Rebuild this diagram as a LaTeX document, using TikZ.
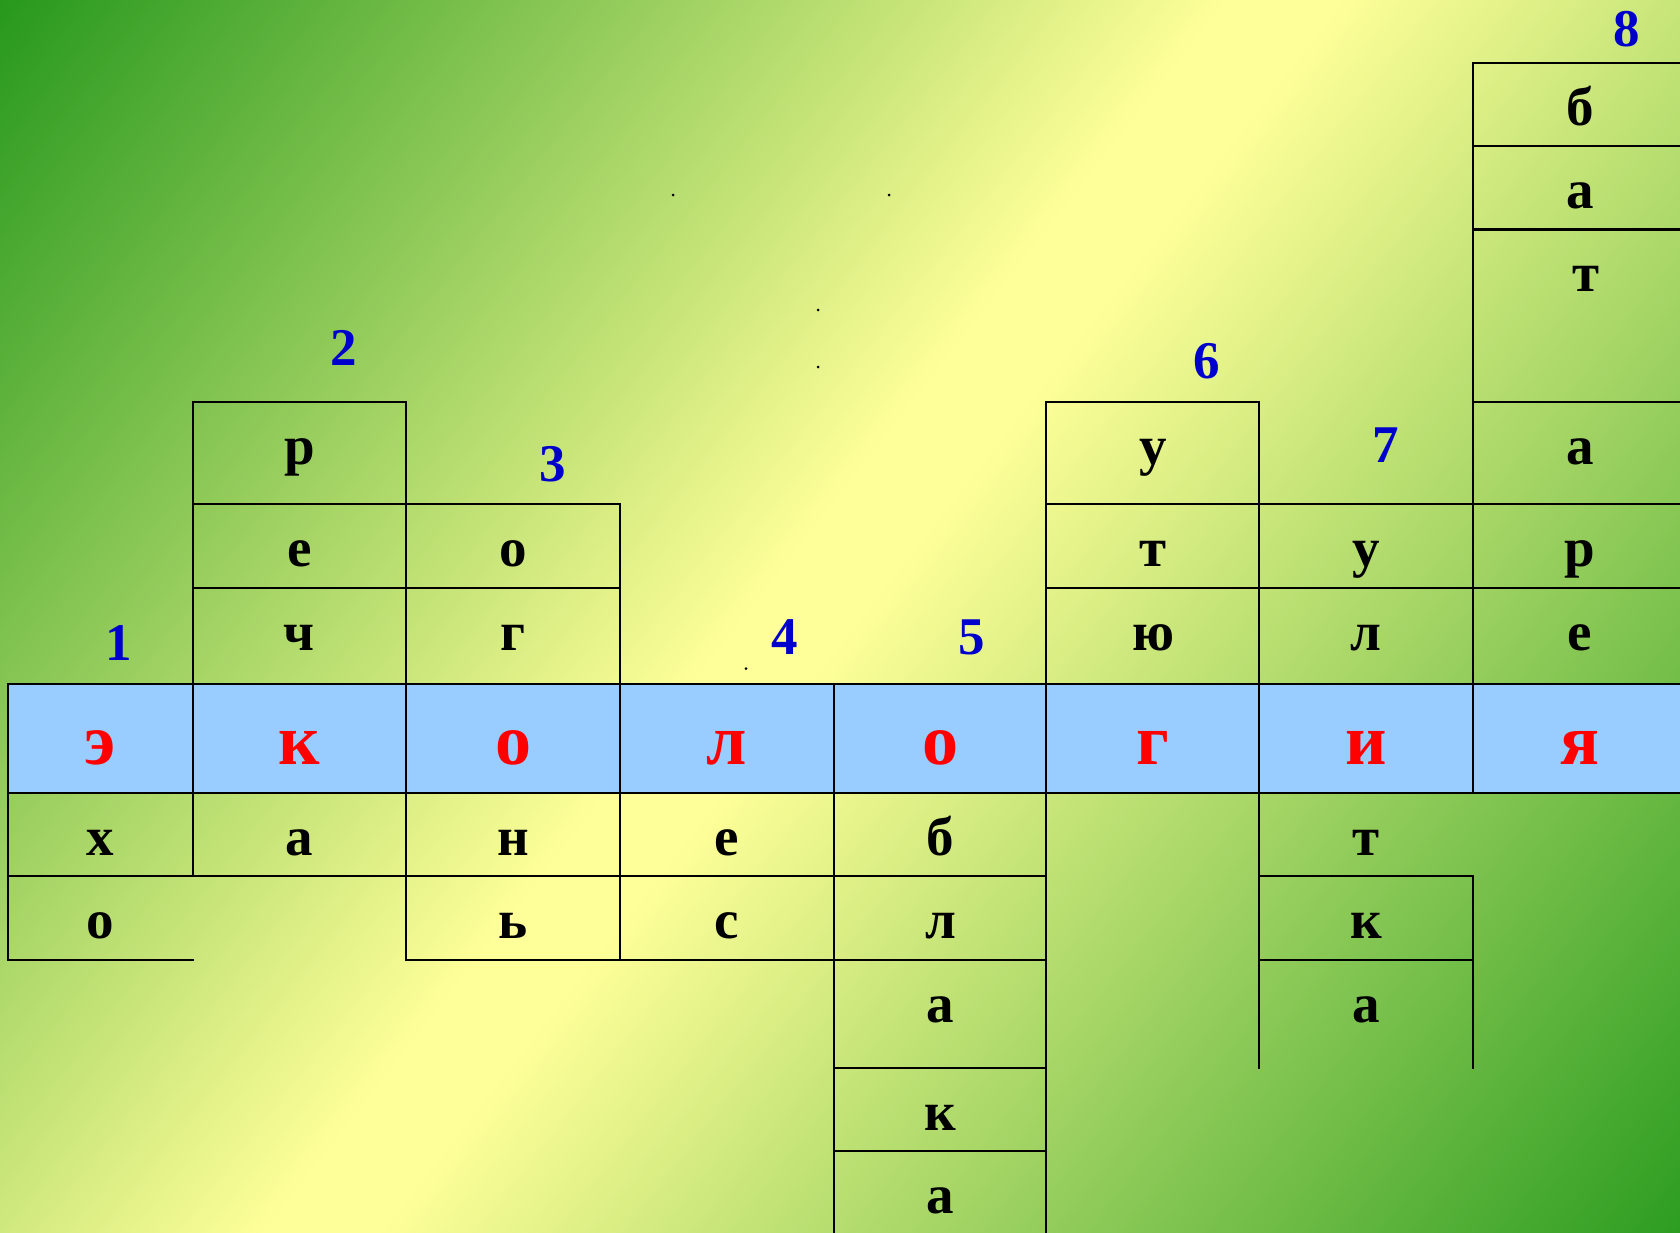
\documentclass[tikz,border=0pt]{standalone}
\usepackage{fontspec}
\setmainfont{Liberation Serif}
\definecolor{bgG}{RGB}{34,150,26}
\definecolor{bgY}{RGB}{255,255,153}
\definecolor{bgGb}{RGB}{40,155,30}
\definecolor{rowblue}{RGB}{153,204,255}
\definecolor{numblue}{RGB}{0,0,204}
\definecolor{wordred}{RGB}{255,0,0}
\pgfdeclarehorizontalshading{bgshade}{100bp}{color(0bp)=(bgG); color(25bp)=(bgG); color(48.3bp)=(bgY); color(50.3bp)=(bgY); color(75bp)=(bgGb); color(100bp)=(bgGb)}
\begin{document}
\begin{tikzpicture}[x=1pt,y=-1pt,
  grid/.style={line width=2.8pt, draw=black, line cap=rect},
  ltr/.style={font=\bfseries\fontsize{55}{55}\selectfont, anchor=mid, inner sep=0pt, text=black, yshift=-13pt},
  key/.style={font=\bfseries\fontsize{72}{72}\selectfont, anchor=mid, inner sep=0pt, text=wordred, yshift=-15pt},
  num/.style={font=\bfseries\fontsize{53}{53}\selectfont, anchor=base, inner sep=0pt, text=numblue},
  speck/.style={fill=black, draw=none}]
\useasboundingbox (0,0) rectangle (1680,1232);
% background gradient
\begin{scope}
  \clip (0,0) rectangle (1680,1232);
  \begin{scope}[transform canvas={rotate=-38}]
    \shade[shading=bgshade] (-20,-1150) rectangle (2103,1100);
  \end{scope}
\end{scope}
% key row fill
\fill[rowblue] (8,684) rectangle (1690,793);
% tiny specks
\fill[speck] (673,195) circle (1.5);
\fill[speck] (889,195) circle (1.5);
\fill[speck] (818,310) circle (1.5);
\fill[speck] (818,367) circle (1.5);
\fill[speck] (746,668.6) circle (1.5);
% vertical grid lines
\draw[grid] (8,684) -- (8,960);
\draw[grid] (193,402) -- (193,876);
\draw[grid] (406,402) -- (406,960);
\draw[grid] (620,504) -- (620,960);
\draw[grid] (834,684) -- (834,1240);
\draw[grid] (1046,402) -- (1046,1240);
\draw[grid] (1259,402) -- (1259,1068);
\draw[grid] (1473,63) -- (1473,793);
\draw[grid] (1473,876) -- (1473,1068);
% horizontal grid lines
\draw[grid] (1473,63) -- (1690,63);
\draw[grid] (1473,146) -- (1690,146);
\draw[grid] (1473,229.5) -- (1690,229.5);
\draw[grid] (193,402) -- (406,402);
\draw[grid] (1046,402) -- (1259,402);
\draw[grid] (1473,402) -- (1690,402);
\draw[grid] (193,504) -- (620,504);
\draw[grid] (1046,504) -- (1690,504);
\draw[grid] (193,588) -- (620,588);
\draw[grid] (1046,588) -- (1690,588);
\draw[grid] (8,684) -- (1690,684);
\draw[grid] (8,793) -- (1690,793);
\draw[grid] (8,876) -- (1046,876);
\draw[grid] (1259,876) -- (1473,876);
\draw[grid] (8,960) -- (193,960);
\draw[grid] (406,960) -- (1046,960);
\draw[grid] (1259,960) -- (1473,960);
\draw[grid] (834,1068) -- (1046,1068);
\draw[grid] (834,1151) -- (1046,1151);
% key word
\node[key] (k1) at (100.5,747) {э};
\node[key] (k2) at (299.5,747) {к};
\node[key] (k3) at (513,747) {о};
\node[key] (k4) at (727,747) {л};
\node[key] (k5) at (940.5,747) {о};
\node[key] (k6) at (1153,747) {г};
\node[key] (k7) at (1366,747) {и};
\node[key] (k8) at (1580,747) {я};
% column 1
\node[ltr] (a1b1) at (100.5,840) {х};
\node[ltr] (a1b2) at (100.5,923) {о};
% column 2
\node[ltr] (a2t1) at (299.5,449) {р};
\node[ltr] (a2t2) at (299.5,551) {е};
\node[ltr] (a2t3) at (299.5,635) {ч};
\node[ltr] (a2b1) at (299.5,840) {а};
% column 3
\node[ltr] (a3t1) at (513,551) {о};
\node[ltr] (a3t2) at (513,635) {г};
\node[ltr] (a3b1) at (513,840) {н};
\node[ltr] (a3b2) at (513,923) {ь};
% column 4
\node[ltr] (a4b1) at (727,840) {е};
\node[ltr] (a4b2) at (727,923) {с};
% column 5
\node[ltr] (a5b1) at (940.5,840) {б};
\node[ltr] (a5b2) at (940.5,923) {л};
\node[ltr] (a5b3) at (940.5,1007) {а};
\node[ltr] (a5b4) at (940.5,1115) {к};
\node[ltr] (a5b5) at (940.5,1198) {а};
% column 6
\node[ltr] (a6t1) at (1153,449) {у};
\node[ltr] (a6t2) at (1153,551) {т};
\node[ltr] (a6t3) at (1153,635) {ю};
% column 7
\node[ltr] (a7t1) at (1366,551) {у};
\node[ltr] (a7t2) at (1366,635) {л};
\node[ltr] (a7b1) at (1366,840) {т};
\node[ltr] (a7b2) at (1366,923) {к};
\node[ltr] (a7b3) at (1366,1007) {а};
% column 8
\node[ltr] (a8t1) at (1580,110) {б};
\node[ltr] (a8t2) at (1580,193) {а};
\node[ltr] (a8t3) at (1586,276.5) {т};
\node[ltr] (a8t4) at (1580,449) {а};
\node[ltr] (a8t5) at (1580,551) {р};
\node[ltr] (a8t6) at (1580,635) {е};
% clue numbers
\node[num] (n1) at (119,660) {1};
\node[num] (n2) at (343.7,365) {2};
\node[num] (n3) at (552.7,481.4) {3};
\node[num] (n4) at (785,654) {4};
\node[num] (n5) at (971.7,654) {5};
\node[num] (n6) at (1207,378.6) {6};
\node[num] (n7) at (1386,462) {7};
\node[num] (n8) at (1626.6,46.9) {8};
\end{tikzpicture}
\end{document}
